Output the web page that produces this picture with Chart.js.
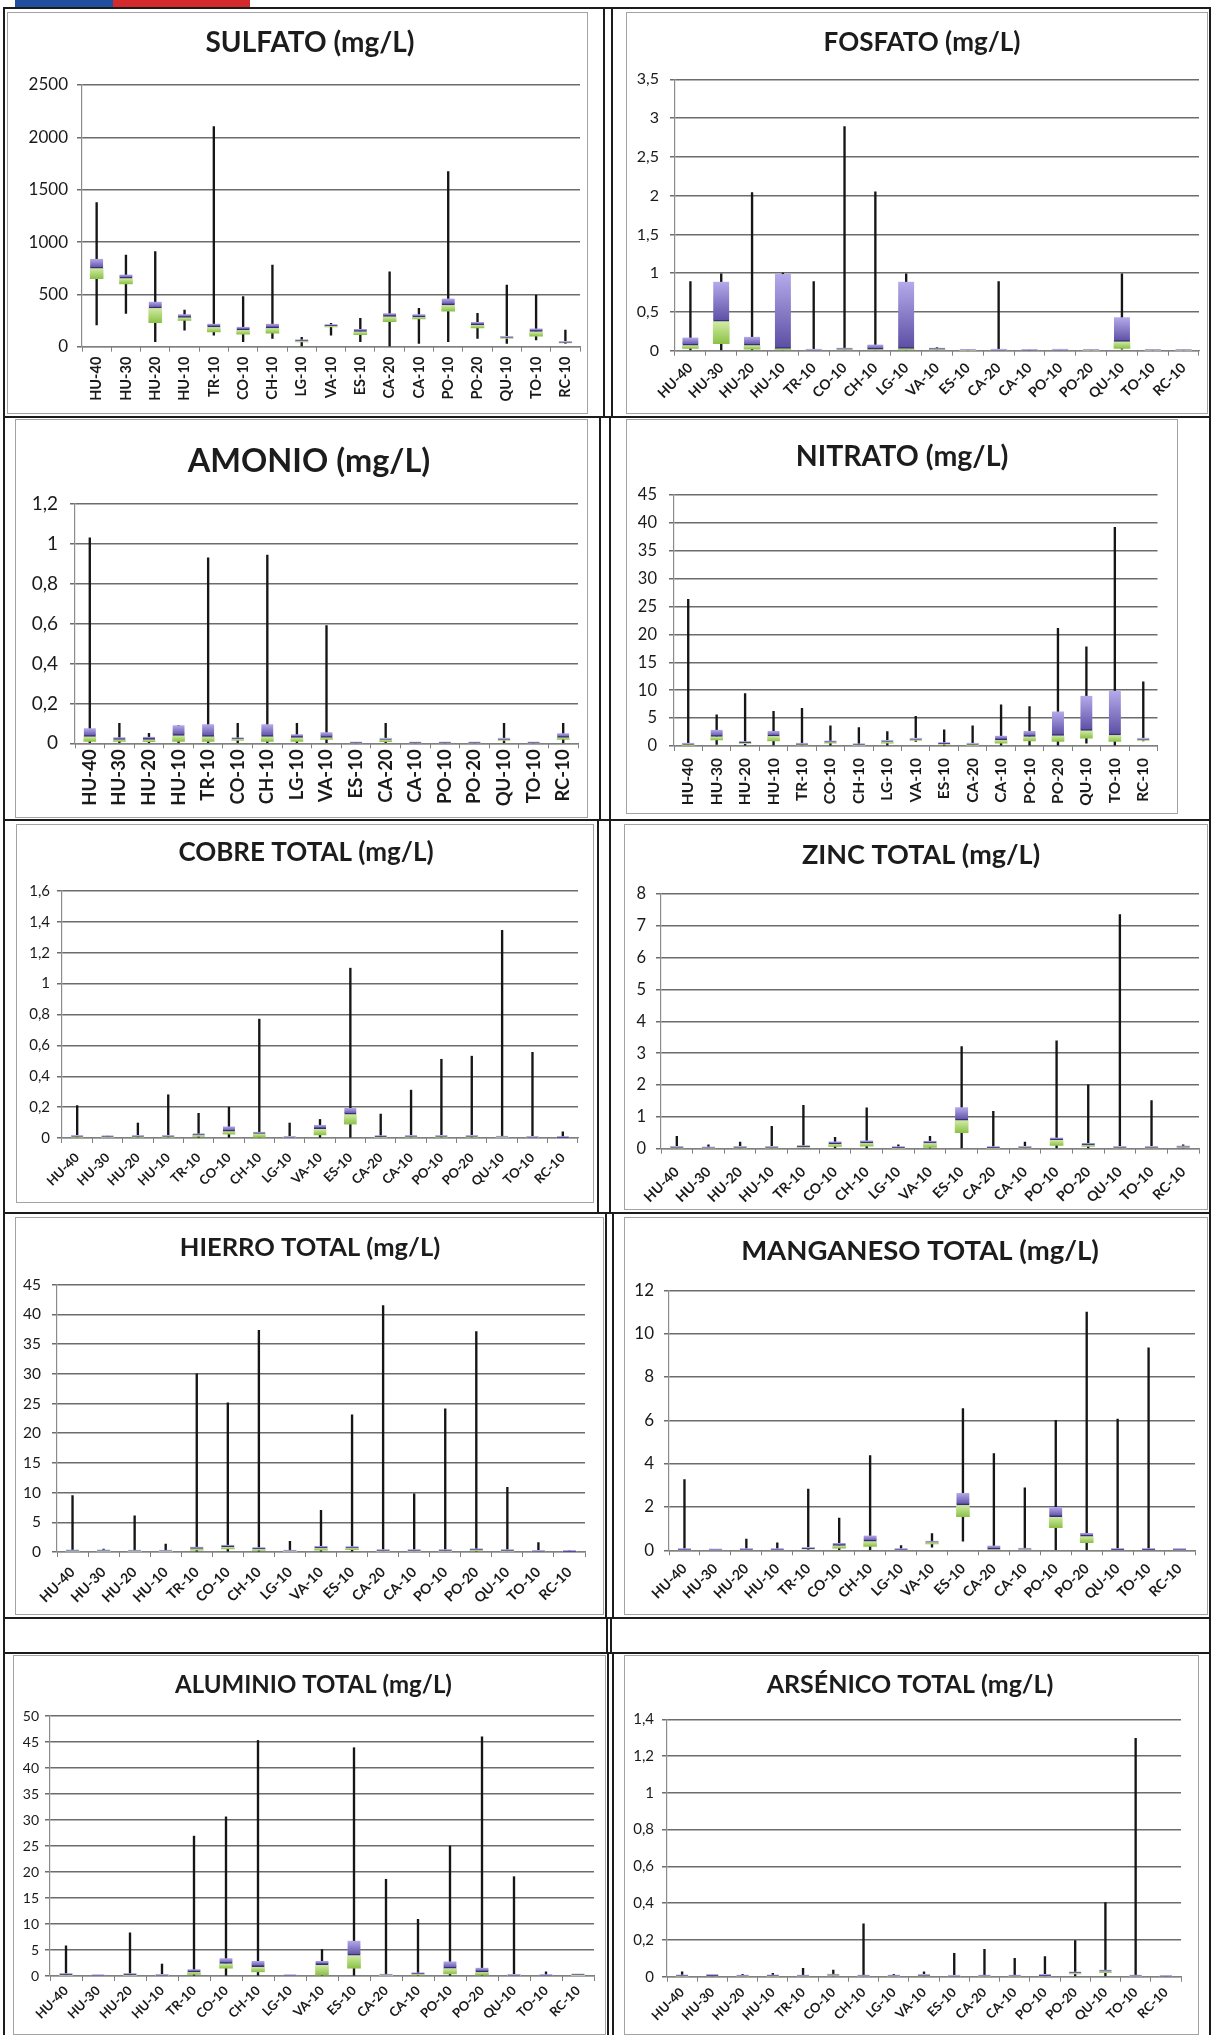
<!DOCTYPE html>
<html>
<head>
<meta charset="utf-8">
<script src="https://cdn.jsdelivr.net/npm/chart.js@4.4.0/dist/chart.umd.min.js"></script>
<style>
html,body{margin:0;padding:0;background:#fff;}
body{width:1214px;height:2035px;position:relative;overflow:hidden;font-family:Lato,sans-serif;}
.ln{position:absolute;background:#1c1c1c;}
.frame{position:absolute;border:1px solid #a3a3a3;box-sizing:border-box;}
canvas{position:absolute;}
</style>
</head>
<body>
<script>
// ---------------- DATA ----------------
const CATEGORIES = ['HU-40','HU-30','HU-20','HU-10','TR-10','CO-10','CH-10','LG-10','VA-10','ES-10','CA-20','CA-10','PO-10','PO-20','QU-10','TO-10','RC-10'];

const SULFATO_Y   = [0, 500, 1000, 1500, 2000, 2500];
const SULFATO_MAX = [1376, 876, 908, 350, 2102, 478, 780, 89, 223, 270, 716, 366, 1672, 318, 589, 494, 159];
const SULFATO_Q3  = [840, 690, 430, 310, 220, 190, 220, 65, 210, 170, 320, 310, 460, 235, 95, 175, 45];
const SULFATO_MED = [750, 655, 370, 280, 190, 160, 180, 55, 200, 145, 290, 285, 400, 210, 88, 145, 40];
const SULFATO_Q1  = [650, 600, 230, 250, 140, 120, 130, 45, 190, 115, 240, 265, 340, 180, 80, 100, 35];
const SULFATO_MIN = [207, 318, 48, 159, 111, 48, 80, 0, 111, 48, 6, 32, 48, 80, 32, 64, 32];

const FOSFATO_Y   = [0, 0.5, 1, 1.5, 2, 2.5, 3, 3.5];
const FOSFATO_MAX = [0.89, 0.99, 2.04, 1.0, 0.89, 2.89, 2.05, 0.99, 0.04, 0, 0.89, 0.005, 0.01, 0, 0.99, 0, 0];
const FOSFATO_Q3  = [0.17, 0.89, 0.18, 0.99, 0.01, 0.03, 0.08, 0.89, 0.035, 0, 0.01, 0.005, 0.01, 0, 0.43, 0, 0];
const FOSFATO_MED = [0.07, 0.38, 0.07, 0.03, 0.005, 0.02, 0.02, 0.03, 0.02, 0, 0.005, 0.003, 0.005, 0, 0.12, 0, 0];
const FOSFATO_Q1  = [0.03, 0.09, 0.02, 0.01, 0, 0.01, 0.01, 0.01, 0.01, 0, 0, 0, 0, 0, 0.03, 0, 0];
const FOSFATO_MIN = [0, 0.01, 0, 0, 0, 0, 0, 0, 0, 0, 0, 0, 0, 0, 0.02, 0, 0];

const AMONIO_Y   = [0, 0.2, 0.4, 0.6, 0.8, 1, 1.2];
const AMONIO_MAX = [1.03, 0.10, 0.05, 0.09, 0.93, 0.10, 0.944, 0.10, 0.59, 0, 0.10, 0, 0, 0, 0.10, 0, 0.10];
const AMONIO_Q3  = [0.075, 0.03, 0.033, 0.09, 0.095, 0.028, 0.095, 0.045, 0.055, 0, 0.022, 0, 0, 0, 0.025, 0, 0.05];
const AMONIO_MED = [0.035, 0.02, 0.02, 0.04, 0.035, 0.022, 0.035, 0.03, 0.03, 0, 0.02, 0, 0, 0, 0.02, 0, 0.03];
const AMONIO_Q1  = [0.01, 0.01, 0.008, 0.01, 0.01, 0.015, 0.01, 0.01, 0.02, 0, 0.008, 0, 0, 0, 0.015, 0, 0.02];
const AMONIO_MIN = [0, 0, 0, 0, 0, 0, 0, 0, 0, 0, 0, 0, 0, 0, 0, 0, 0];

const NITRATO_Y   = [0, 5, 10, 15, 20, 25, 30, 35, 40, 45];
const NITRATO_MAX = [26.3, 5.6, 9.4, 6.2, 6.75, 3.6, 3.3, 2.6, 5.3, 2.9, 3.6, 7.4, 7.05, 21.1, 17.8, 39.2, 11.5];
const NITRATO_Q3  = [0.5, 2.9, 0.8, 2.7, 0.5, 0.9, 0.3, 1.0, 1.3, 0.6, 0.4, 1.85, 2.7, 6.2, 9.0, 9.9, 1.3];
const NITRATO_MED = [0.3, 1.7, 0.6, 1.8, 0.3, 0.7, 0.2, 0.8, 1.2, 0.4, 0.3, 1.1, 1.7, 1.9, 2.8, 2.0, 1.2];
const NITRATO_Q1  = [0.1, 1.1, 0.4, 0.9, 0.15, 0.5, 0.1, 0.5, 1.0, 0.3, 0.1, 0.5, 0.9, 0.8, 1.4, 0.8, 1.0];
const NITRATO_MIN = [0, 0.3, 0, 0.2, 0, 0, 0, 0, 0.8, 0, 0, 0, 0, 0, 0.5, 0, 0.9];

const COBRE_Y   = [0, 0.2, 0.4, 0.6, 0.8, 1, 1.2, 1.4, 1.6];
const COBRE_MAX = [0.21, 0.012, 0.097, 0.28, 0.16, 0.2, 0.77, 0.097, 0.12, 1.10, 0.155, 0.31, 0.51, 0.53, 1.345, 0.555, 0.04];
const COBRE_Q3  = [0.015, 0.01, 0.015, 0.015, 0.025, 0.075, 0.04, 0.006, 0.085, 0.195, 0.012, 0.015, 0.014, 0.014, 0.008, 0.007, 0.004];
const COBRE_MED = [0.01, 0.007, 0.01, 0.01, 0.02, 0.045, 0.03, 0.004, 0.06, 0.155, 0.008, 0.01, 0.01, 0.01, 0.005, 0.004, 0.002];
const COBRE_Q1  = [0.005, 0.004, 0.005, 0.005, 0.01, 0.025, 0.005, 0.002, 0.02, 0.09, 0.004, 0.005, 0.005, 0.005, 0.002, 0.002, 0.001];
const COBRE_MIN = [0, 0, 0, 0, 0, 0, 0, 0, 0, 0, 0, 0, 0, 0, 0, 0, 0];

const ZINC_Y   = [0, 1, 2, 3, 4, 5, 6, 7, 8];
const ZINC_MAX = [0.39, 0.12, 0.21, 0.70, 1.36, 0.36, 1.28, 0.12, 0.39, 3.21, 1.17, 0.21, 3.39, 2.01, 7.35, 1.51, 0.12];
const ZINC_Q3  = [0.06, 0.03, 0.07, 0.06, 0.10, 0.23, 0.26, 0.04, 0.25, 1.30, 0.05, 0.06, 0.35, 0.18, 0.06, 0.05, 0.07];
const ZINC_MED = [0.04, 0.02, 0.04, 0.04, 0.06, 0.15, 0.18, 0.03, 0.18, 0.90, 0.03, 0.04, 0.28, 0.12, 0.04, 0.04, 0.05];
const ZINC_Q1  = [0.02, 0.01, 0.02, 0.02, 0.03, 0.07, 0.08, 0.01, 0.04, 0.50, 0.01, 0.02, 0.10, 0.07, 0.02, 0.02, 0.03];
const ZINC_MIN = [0, 0, 0, 0, 0, 0, 0, 0, 0, 0, 0, 0, 0, 0, 0, 0, 0];

const HIERRO_Y   = [0, 5, 10, 15, 20, 25, 30, 35, 40, 45];
const HIERRO_MAX = [9.5, 0.5, 6.1, 1.35, 30.0, 25.1, 37.3, 1.8, 7.0, 23.1, 41.5, 9.8, 24.1, 37.1, 10.9, 1.6, 0.28];
const HIERRO_Q3  = [0.25, 0.25, 0.2, 0.2, 0.9, 1.2, 0.75, 0.2, 1.0, 0.9, 0.3, 0.3, 0.3, 0.5, 0.3, 0.12, 0.1];
const HIERRO_MED = [0.15, 0.15, 0.12, 0.12, 0.6, 0.9, 0.55, 0.12, 0.7, 0.7, 0.2, 0.2, 0.2, 0.35, 0.2, 0.08, 0.06];
const HIERRO_Q1  = [0.05, 0.05, 0.05, 0.05, 0.3, 0.5, 0.25, 0.05, 0.3, 0.4, 0.1, 0.1, 0.1, 0.2, 0.1, 0.03, 0.02];
const HIERRO_MIN = [0, 0, 0, 0, 0, 0, 0, 0, 0, 0, 0, 0, 0, 0, 0, 0, 0];

const MANGANESO_Y   = [0, 2, 4, 6, 8, 10, 12];
const MANGANESO_MAX = [3.26, 0.03, 0.52, 0.34, 2.83, 1.49, 4.37, 0.22, 0.77, 6.54, 4.46, 2.88, 6.0, 11.0, 6.06, 9.34, 0.03];
const MANGANESO_Q3  = [0.04, 0.02, 0.03, 0.03, 0.12, 0.34, 0.68, 0.03, 0.42, 2.65, 0.22, 0.08, 2.0, 0.8, 0.05, 0.05, 0.03];
const MANGANESO_MED = [0.02, 0.01, 0.02, 0.02, 0.08, 0.22, 0.42, 0.02, 0.37, 2.1, 0.05, 0.05, 1.55, 0.65, 0.03, 0.03, 0.02];
const MANGANESO_Q1  = [0.01, 0.005, 0.01, 0.01, 0.05, 0.1, 0.18, 0.01, 0.3, 1.55, 0.02, 0.03, 1.05, 0.35, 0.02, 0.02, 0.01];
const MANGANESO_MIN = [0, 0, 0, 0, 0, 0, 0, 0, 0.15, 0.42, 0, 0, 0, 0, 0, 0, 0];

const ALUMINIO_Y   = [0, 5, 10, 15, 20, 25, 30, 35, 40, 45, 50];
const ALUMINIO_MAX = [5.8, 0.05, 8.3, 2.3, 26.9, 30.6, 45.3, 0.05, 5.1, 43.9, 18.6, 10.9, 25.0, 46.0, 19.1, 0.8, 0.3];
const ALUMINIO_Q3  = [0.4, 0.03, 0.4, 0.15, 1.3, 3.4, 2.9, 0.03, 2.9, 6.8, 0.25, 0.6, 2.8, 1.6, 0.15, 0.05, 0.3];
const ALUMINIO_MED = [0.25, 0.02, 0.25, 0.1, 0.8, 2.4, 1.8, 0.02, 2.2, 4.0, 0.15, 0.4, 1.5, 0.8, 0.1, 0.03, 0.2];
const ALUMINIO_Q1  = [0.1, 0.01, 0.1, 0.05, 0.3, 1.5, 0.8, 0.01, 0.2, 1.5, 0.05, 0.2, 0.4, 0.2, 0.05, 0.01, 0.05];
const ALUMINIO_MIN = [0, 0, 0, 0, 0, 0, 0, 0, 0, 0, 0, 0, 0, 0, 0, 0, 0];

const ARSENICO_Y   = [0, 0.2, 0.4, 0.6, 0.8, 1, 1.2, 1.4];
const ARSENICO_MAX = [0.027, 0.01, 0.013, 0.018, 0.045, 0.036, 0.287, 0.013, 0.027, 0.127, 0.149, 0.10, 0.109, 0.196, 0.403, 1.297, 0.003];
const ARSENICO_Q3  = [0.006, 0.008, 0.005, 0.006, 0.005, 0.012, 0.004, 0.004, 0.01, 0.003, 0.004, 0.004, 0.008, 0.025, 0.036, 0.004, 0.002];
const ARSENICO_MED = [0.004, 0.006, 0.003, 0.004, 0.003, 0.008, 0.003, 0.003, 0.007, 0.002, 0.003, 0.003, 0.006, 0.02, 0.03, 0.003, 0.001];
const ARSENICO_Q1  = [0.002, 0.004, 0.001, 0.002, 0.001, 0.004, 0.001, 0.001, 0.004, 0.001, 0.001, 0.001, 0.003, 0.015, 0.022, 0.001, 0];
const ARSENICO_MIN = [0, 0, 0, 0, 0, 0, 0, 0, 0, 0, 0, 0, 0, 0, 0, 0, 0];

// ---------------- LAYOUT (positions / styles) ----------------
const PANELS = [
  {title:'SULFATO (mg/L)', y:SULFATO_Y, max:SULFATO_MAX, q3:SULFATO_Q3, med:SULFATO_MED, q1:SULFATO_Q1, min:SULFATO_MIN,
   rect:[7,12,581,402], plot:[82,85,581,346.7], tc:[310,43], ts:28, yf:17, ylr:68, rot:90, xf:14.5, xoff:10, box:13},
  {title:'FOSFATO (mg/L)', y:FOSFATO_Y, max:FOSFATO_MAX, q3:FOSFATO_Q3, med:FOSFATO_MED, q1:FOSFATO_Q1, min:FOSFATO_MIN,
   rect:[626,12,582,402], plot:[675,79.3,1199,350.7], tc:[922,43], ts:26, yf:16, ylr:659, rot:45, xf:14, xoff:9, box:16},
  {title:'AMONIO (mg/L)', y:AMONIO_Y, max:AMONIO_MAX, q3:AMONIO_Q3, med:AMONIO_MED, q1:AMONIO_Q1, min:AMONIO_MIN,
   rect:[15,419,573,399], plot:[75,504,578,743.3], tc:[309,462], ts:32.5, yf:19, ylr:58, rot:90, xf:18.5, xoff:6, box:12},
  {title:'NITRATO (mg/L)', y:NITRATO_Y, max:NITRATO_MAX, q3:NITRATO_Q3, med:NITRATO_MED, q1:NITRATO_Q1, min:NITRATO_MIN,
   rect:[626,419,552,395], plot:[674,495,1157.5,746], tc:[902,457], ts:28.5, yf:16.5, ylr:657, rot:90, xf:15.5, xoff:12, box:12},
  {title:'COBRE TOTAL (mg/L)', y:COBRE_Y, max:COBRE_MAX, q3:COBRE_Q3, med:COBRE_MED, q1:COBRE_Q1, min:COBRE_MIN,
   rect:[16,824,578,379], plot:[62,891,578,1138], tc:[306,853], ts:26, yf:15, ylr:50, rot:45, xf:13, xoff:12, box:12},
  {title:'ZINC TOTAL (mg/L)', y:ZINC_Y, max:ZINC_MAX, q3:ZINC_Q3, med:ZINC_MED, q1:ZINC_Q1, min:ZINC_MIN,
   rect:[624,824,584,386], plot:[661,894,1199,1148.7], tc:[921,855], ts:27, yf:16.5, ylr:646, rot:45, xf:14, xoff:15, box:13},
  {title:'HIERRO TOTAL (mg/L)', y:HIERRO_Y, max:HIERRO_MAX, q3:HIERRO_Q3, med:HIERRO_MED, q1:HIERRO_Q1, min:HIERRO_MIN,
   rect:[15,1217,589,398], plot:[57,1284.7,585,1552], tc:[310,1248], ts:25.5, yf:15.5, ylr:41, rot:45, xf:14, xoff:12, box:13},
  {title:'MANGANESO TOTAL (mg/L)', y:MANGANESO_Y, max:MANGANESO_MAX, q3:MANGANESO_Q3, med:MANGANESO_MED, q1:MANGANESO_Q1, min:MANGANESO_MIN,
   rect:[624,1217,584,398], plot:[669,1290.3,1195,1550.3], tc:[920,1251], ts:27.5, yf:17, ylr:654, rot:45, xf:14, xoff:10, box:13},
  {title:'ALUMINIO TOTAL (mg/L)', y:ALUMINIO_Y, max:ALUMINIO_MAX, q3:ALUMINIO_Q3, med:ALUMINIO_MED, q1:ALUMINIO_Q1, min:ALUMINIO_MIN,
   rect:[13,1655,593,380], plot:[50,1716,594,1976], tc:[313.5,1685], ts:24, yf:14, ylr:39, rot:45, xf:13, xoff:7, box:13},
  {title:'ARSÉNICO TOTAL (mg/L)', y:ARSENICO_Y, max:ARSENICO_MAX, q3:ARSENICO_Q3, med:ARSENICO_MED, q1:ARSENICO_Q1, min:ARSENICO_MIN,
   rect:[624,1655,575,380], plot:[667,1719.3,1181,1976.7], tc:[910,1685], ts:25, yf:15, ylr:654, rot:45, xf:13, xoff:8, box:12}
];

// page rules: [x, y, w, h, color]
const RULES = [
  [15,0,98,7,'#1f4f9e'], [113,0,137,7,'#d42a2e'],
  [3,7,1208,2], [3,7,2,2028], [1209,7,2,2028],
  [3,416,1208,2], [3,819,1208,2], [3,1212,1208,2], [3,1617,1208,2], [3,1652,1208,2],
  [603,7,2,410], [611,7,2,410],
  [599,416,2,404], [609,416,2,404],
  [597,819,2,394], [609,819,2,394],
  [605,1212,2,406], [612,1212,2,406],
  [606,1617,2,36], [610,1617,2,36],
  [607,1652,2,383], [612,1652,2,383]
];

for (const r of RULES) {
  const d = document.createElement('div');
  d.className = 'ln';
  d.style.cssText = `left:${r[0]}px;top:${r[1]}px;width:${r[2]}px;height:${r[3]}px;` + (r[4] ? `background:${r[4]};` : '');
  document.body.appendChild(d);
}

function fmt(v) { return String(v).replace('.', ','); }

function grad(c1, c2) {
  return (ctx) => {
    const chart = ctx.chart;
    const ys = chart.scales && chart.scales.y;
    if (!ys || ctx.type !== 'data' || !Array.isArray(ctx.raw)) return c2;
    const top = ys.getPixelForValue(Math.max(ctx.raw[0], ctx.raw[1]));
    let bot = ys.getPixelForValue(Math.min(ctx.raw[0], ctx.raw[1]));
    if (!isFinite(top) || !isFinite(bot)) return c2;
    if (bot - top < 2) bot = top + 2;
    const g = chart.ctx.createLinearGradient(0, top, 0, bot);
    g.addColorStop(0, c1);
    g.addColorStop(1, c2);
    return g;
  };
}

// Panel title drawn by a small Chart.js plugin at a fixed spot inside the canvas
const panelTitle = {
  id: 'panelTitle',
  afterDraw(chart, args, o) {
    const c = chart.ctx;
    c.save();
    c.font = `bold ${o.size}px Lato, sans-serif`;
    c.fillStyle = o.color;
    c.textAlign = 'center';
    c.textBaseline = 'middle';
    c.fillText(o.text, o.x, o.y);
    c.restore();
  }
};

Chart.defaults.font.family = 'Lato, sans-serif';
Chart.defaults.color = '#1a1a1a';

for (const p of PANELS) {
  const [X0, Y0, W, H] = p.rect;
  const [PL, PT, PR, PB] = p.plot;
  const frame = document.createElement('div');
  frame.className = 'frame';
  frame.style.cssText = `left:${X0}px;top:${Y0}px;width:${W}px;height:${H}px;`;
  document.body.appendChild(frame);

  const cv = document.createElement('canvas');
  cv.width = W; cv.height = H;
  cv.style.cssText = `left:${X0}px;top:${Y0}px;width:${W}px;height:${H}px;`;
  document.body.appendChild(cv);

  const padR = X0 + W - PR;
  const padT = PT - Y0;
  const yW = PL - X0;
  const xH = Y0 + H - PB;
  const yTickLen = 5;
  const yPad = PL - p.ylr - yTickLen;
  const yt = p.y;

  new Chart(cv, {
    type: 'bar',
    plugins: [panelTitle],
    data: {
      labels: CATEGORIES,
      datasets: [
        {
          label: 'Q3', order: 1, grouped: false,
          data: p.med.map((m, i) => [m, p.q3[i]]),
          backgroundColor: grad('#b5aaeb', '#5c4ea3'),
          borderColor: '#3a2d78',
          borderWidth: {top: 0, left: 0, right: 0, bottom: 1.5},
          borderSkipped: false,
          barThickness: p.box, minBarLength: 1.5
        },
        {
          label: 'Q1', order: 2, grouped: false,
          data: p.q1.map((q, i) => [q, p.med[i]]),
          backgroundColor: grad('#d2eba6', '#8cc247'),
          borderWidth: 0,
          barThickness: p.box
        },
        {
          label: 'Rango', order: 3, grouped: false,
          data: p.min.map((m, i) => [m, p.max[i]]),
          backgroundColor: '#161616',
          borderWidth: 0,
          barThickness: 1.7
        }
      ]
    },
    options: {
      responsive: false,
      maintainAspectRatio: false,
      animation: false,
      events: [],
      layout: { padding: { left: 0, right: padR, top: padT, bottom: 0 } },
      plugins: {
        legend: { display: false },
        tooltip: { enabled: false },
        title: { display: false },
        panelTitle: { text: p.title, size: p.ts, color: '#1c1c1c', x: p.tc[0] - X0, y: p.tc[1] - Y0 }
      },
      scales: {
        x: {
          offset: true,
          grid: { display: true, drawOnChartArea: false, drawTicks: true, tickLength: 5, color: '#808080', offset: true },
          border: { display: true, color: '#808080', width: 1.2 },
          ticks: {
            autoSkip: false, minRotation: p.rot, maxRotation: p.rot,
            padding: p.xoff - 5, color: '#1a1a1a',
            font: { family: 'Lato, sans-serif', size: p.xf, weight: 'bold' }
          },
          afterFit: (s) => { s.height = xH; }
        },
        y: {
          min: yt[0], max: yt[yt.length - 1],
          grid: { color: '#6c6c6c', lineWidth: 1.5, drawTicks: true, tickLength: yTickLen },
          border: { display: true, color: '#8c8c8c', width: 1.2 },
          ticks: {
            padding: yPad, color: '#1a1a1a',
            font: { family: 'Lato, sans-serif', size: p.yf },
            callback: (v) => fmt(v)
          },
          afterBuildTicks: (s) => { s.ticks = yt.map(v => ({ value: v })); },
          afterFit: (s) => { s.width = yW; }
        }
      }
    }
  });
}
</script>
</body>
</html>
